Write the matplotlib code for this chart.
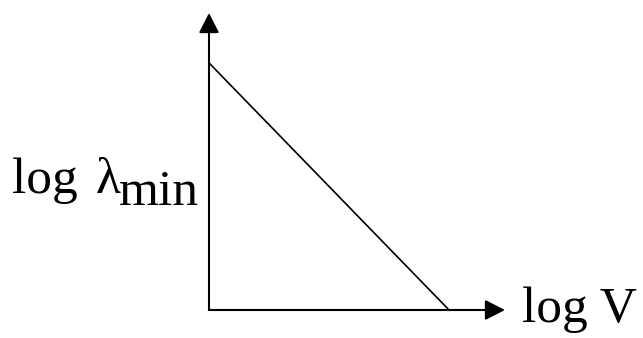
import matplotlib
matplotlib.use("Agg")
import matplotlib.pyplot as plt

# Straight-line relation: log(lambda_min) falls linearly with log(V)
log_v = [0.0, 8.11]
log_lambda_min = [8.32, 0.0]

x_label = "log V"
y_label_log = "log"
y_label_sym = "λ"
y_label_sub = "min"

W, H = 643, 338
fig = plt.figure(figsize=(W / 100, H / 100), dpi=100)
fig.patch.set_facecolor("white")

# axes origin at pixel (209, 310), arrow tips at x=505 and y=13
ox, oy = 209, 310
tip_x, tip_y = 505, 13
ax = fig.add_axes([ox / W, (H - oy) / H, (tip_x - ox) / W, (oy - tip_y) / H])
ax.set_xlim(0, 10)
ax.set_ylim(0, 10)
ax.axis("off")

ax.plot(log_v, log_lambda_min, color="black", lw=1.2, solid_capstyle="butt")

arrow_kw = dict(arrowstyle="-|>,head_length=0.55,head_width=0.28",
                color="black", lw=1.5, mutation_scale=22, shrinkA=0, shrinkB=0)
ax.annotate("", xy=(10, 0), xytext=(0, 0), xycoords="data",
            arrowprops=arrow_kw, annotation_clip=False)
ax.annotate("", xy=(0, 10), xytext=(0, 0), xycoords="data",
            arrowprops=arrow_kw, annotation_clip=False)

font = dict(family="Liberation Serif", fontsize=37, color="black")
fig.text(12 / W, (H - 193) / H, y_label_log, ha="left", va="baseline", **font)
fig.text(96 / W, (H - 193) / H, y_label_sym, ha="left", va="baseline", **font)
fig.text(119 / W, (H - 205) / H, y_label_sub, ha="left", va="baseline", **font)
fig.text(522 / W, (H - 322) / H, x_label, ha="left", va="baseline", **font)

fig.savefig("out.png", dpi=100, facecolor="white")
